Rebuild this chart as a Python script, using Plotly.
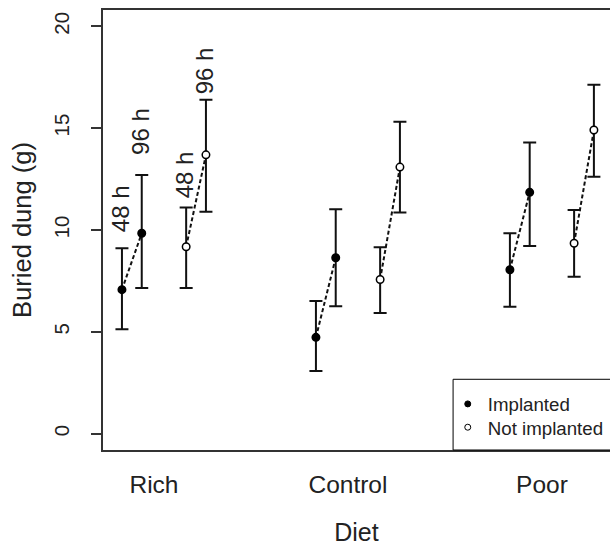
import plotly.graph_objects as go

# ---------------- data ----------------
diets = ["Rich", "Control", "Poor"]
times = ["48 h", "96 h"]

# implanted beetles: mean, lower, upper for 48 h and 96 h per diet
impl_48_mean = [7.07, 4.73, 8.05]
impl_48_low = [5.13, 3.08, 6.23]
impl_48_high = [9.10, 6.51, 9.84]
impl_96_mean = [9.84, 8.64, 11.85]
impl_96_low = [7.15, 6.26, 9.22]
impl_96_high = [12.70, 11.02, 14.29]

# not implanted beetles
not_48_mean = [9.18, 7.57, 9.35]
not_48_low = [7.15, 5.93, 7.71]
not_48_high = [11.11, 9.15, 10.98]
not_96_mean = [13.69, 13.09, 14.91]
not_96_low = [10.90, 10.86, 12.62]
not_96_high = [16.39, 15.32, 17.13]

# y positions of the time labels (Rich group only)
label_y = [11.07, 14.85, 12.69, 17.84]

y_ticks = [0, 5, 10, 15, 20]

# ---------------- layout constants ----------------
FONT = "Liberation Sans, Arial, Helvetica, sans-serif"
TXT = "#222"
OFFSETS = {"impl48": -0.165, "impl96": -0.063, "not48": 0.166, "not96": 0.268}
centers = [1, 2, 3]

fig = go.Figure()

def xs(key):
    return [c + OFFSETS[key] for c in centers]

# dashed connecting lines (drawn first, under the points)
for i in range(len(diets)):
    for a, b, ma, mb in [("impl48", "impl96", impl_48_mean, impl_96_mean),
                         ("not48", "not96", not_48_mean, not_96_mean)]:
        fig.add_trace(go.Scatter(
            x=[xs(a)[i], xs(b)[i]], y=[ma[i], mb[i]],
            mode="lines", line=dict(color="#111", width=2, dash="4px,2.5px"),
            showlegend=False, hoverinfo="skip"))

def add_points(key, mean, low, high, filled):
    fig.add_trace(go.Scatter(
        x=xs(key), y=mean, mode="markers",
        marker=dict(symbol="circle", size=7.5,
                    color="black" if filled else "white",
                    line=dict(color="black", width=1.5)),
        error_y=dict(type="data", symmetric=False,
                     array=[h - m for h, m in zip(high, mean)],
                     arrayminus=[m - l for m, l in zip(mean, low)],
                     color="#111", thickness=2, width=6.5),
        showlegend=False))

add_points("impl48", impl_48_mean, impl_48_low, impl_48_high, True)
add_points("impl96", impl_96_mean, impl_96_low, impl_96_high, True)
add_points("not48", not_48_mean, not_48_low, not_48_high, False)
add_points("not96", not_96_mean, not_96_low, not_96_high, False)

# legend-only traces (each in its own legend so the row spacing matches)
fig.add_trace(go.Scatter(x=[None], y=[None], mode="markers", name="Implanted",
                         legend="legend",
                         marker=dict(symbol="circle", size=6, color="black",
                                     line=dict(color="black", width=1))))
fig.add_trace(go.Scatter(x=[None], y=[None], mode="markers", name="Not implanted",
                         legend="legend2",
                         marker=dict(symbol="circle", size=6, color="white",
                                     line=dict(color="black", width=1))))

# time labels over the Rich group
label_keys = ["impl48", "impl96", "not48", "not96"]
label_text = [times[0], times[1], times[0], times[1]]
for k, t, yv in zip(label_keys, label_text, label_y):
    fig.add_annotation(x=xs(k)[0], y=yv, text=t, textangle=-90, showarrow=False,
                       xanchor="center", yanchor="middle", xshift=-2,
                       font=dict(family=FONT, size=24, color=TXT))

# legend box
fig.add_shape(type="rect", xref="paper", yref="paper",
              x0=0.6905, x1=1.1, y0=0, y1=0.1607,
              line=dict(color="black", width=1), fillcolor="rgba(0,0,0,0)")

legend_common = dict(xanchor="left", yanchor="middle",
                     bgcolor="rgba(0,0,0,0)", borderwidth=0,
                     font=dict(family=FONT, size=18.7, color=TXT))

fig.update_layout(
    width=610, height=546,
    margin=dict(l=103, r=0, t=10, b=95.5),
    plot_bgcolor="white", paper_bgcolor="white",
    font=dict(family=FONT, color=TXT),
    showlegend=True,
    legend=dict(x=0.68, y=0.104, **legend_common),
    legend2=dict(x=0.68, y=0.051, **legend_common),
    xaxis=dict(range=[0.7373, 3.351], tickvals=centers, ticktext=diets,
               ticks="", showgrid=False, zeroline=False,
               showline=True, mirror=True, linecolor="#333", linewidth=1.5,
               tickfont=dict(family=FONT, size=24.5, color=TXT),
               ticklabelstandoff=12,
               title=dict(text="Diet", font=dict(family=FONT, size=25, color=TXT),
                          standoff=26)),
    yaxis=dict(range=[-0.8, 20.8], tickvals=y_ticks, ticks="outside", ticklen=10,
               tickcolor="#333", tickwidth=1.5, tickangle=-90,
               showgrid=False, zeroline=False,
               showline=True, mirror=False, linecolor="#333", linewidth=1.5,
               tickfont=dict(family=FONT, size=20.5, color=TXT),
               ticklabelstandoff=14,
               title=dict(text="Buried dung (g)",
                          font=dict(family=FONT, size=25.5, color=TXT),
                          standoff=11)),
)

fig.write_html("out.html",
               config={"displayModeBar": False},
               post_script="document.body.style.margin='0';"
                           "document.body.style.overflow='hidden';")
